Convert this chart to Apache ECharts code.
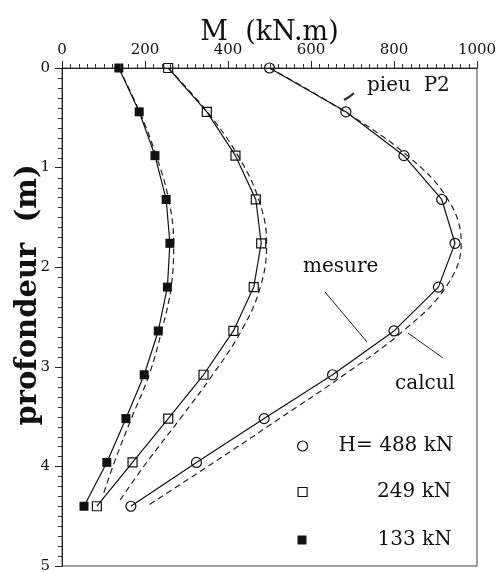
<!DOCTYPE html>
<html>
<head>
<meta charset="utf-8">
<script src="https://cdn.jsdelivr.net/npm/echarts@6/dist/echarts.min.js"></script>
<style>
html,body{margin:0;padding:0;background:#fff;}
#chart{width:497px;height:572px;}
</style>
</head>
<body>
<div id="chart"></div>
<script>
// depth (m) of the measurement points
const depth = [0, 0.44, 0.88, 1.32, 1.76, 2.2, 2.64, 3.08, 3.52, 3.96, 4.4];
// measured moments M (kN.m)
const mes488 = [500, 684, 824, 915, 947, 907, 800, 652, 487, 324, 166];
const mes249 = [256, 349, 418, 467, 480, 462, 413, 341, 256, 170, 84];
const mes133 = [137, 186, 224, 251, 260, 254, 232, 198, 154, 108, 53];
// calculated moments (dashed curves)
const calcDepth488 = [0, 0.44, 0.88, 1.32, 1.76, 2.2, 2.64, 3.08, 3.52, 3.96, 4.39];
const calc488 = [500, 682, 832, 930, 962, 925, 822, 680, 524, 366, 208];
const calcDepth249 = [0, 0.44, 0.88, 1.32, 1.76, 2.2, 2.64, 3.08, 3.52, 3.96, 4.35];
const calc249 = [256, 350, 424, 474, 493, 478, 432, 363, 285, 204, 138];
const calcDepth133 = [0, 0.44, 0.88, 1.32, 1.76, 2.2, 2.64, 3.08, 3.52, 3.96, 4.3];
const calc133 = [137, 187, 227, 257, 269, 263, 240, 210, 167, 126, 98];
// axis ticks
const xTicks = [0, 200, 400, 600, 800, 1000];
const yTicks = [0, 1, 2, 3, 4, 5];
const minorDivisions = 10;
const loadNames = ['H= 488 kN', '249 kN', '133 kN'];

function pts(ds, ms) { return ms.map((m, i) => [m, ds[i]]); }
function minorValues(ticks) {
  const out = [];
  for (let i = 0; i < ticks.length - 1; i++) {
    const step = (ticks[i + 1] - ticks[i]) / minorDivisions;
    for (let k = 1; k < minorDivisions; k++) out.push(ticks[i] + k * step);
  }
  return out;
}

const FONT = 'DejaVu Serif';
const chart = echarts.init(document.getElementById('chart'), null, {renderer: 'canvas'});

const solidLine = {color: '#111', width: 1.2};
const dashLine = {color: '#222', width: 1.2, type: [6, 4]};

function legendFor(name, icon, size, style, top, padLeft) {
  return {
    show: true, selectedMode: false, orient: 'vertical',
    left: 302 - size / 2, top: top, padding: 0,
    itemWidth: size, itemHeight: size,
    data: [{name: name, icon: icon, itemStyle: style}],
    textStyle: {fontFamily: FONT, fontSize: 20, color: '#111', padding: [0, 0, 0, padLeft]}
  };
}

const xMin = xTicks[0], xMax = xTicks[xTicks.length - 1];
const yMin = yTicks[0], yMax = yTicks[yTicks.length - 1];

// minor ticks drawn through the axes' own scales
const minorTickSeries = [
  {
    name: 'minor x', type: 'custom', clip: false, silent: true, z: 5,
    data: minorValues(xTicks).map(v => [v, yMin]),
    renderItem: (params, api) => {
      const p = api.coord([api.value(0), api.value(1)]);
      const x = Math.round(p[0]) + 0.5, y = Math.round(p[1]);
      return {type: 'line', shape: {x1: x, y1: y, x2: x, y2: y - 4}, style: {stroke: '#333', lineWidth: 1}};
    }
  },
  {
    name: 'minor y', type: 'custom', clip: false, silent: true, z: 5,
    data: minorValues(yTicks).map(v => [xMin, v]),
    renderItem: (params, api) => {
      const p = api.coord([api.value(0), api.value(1)]);
      const x = Math.round(p[0]), y = Math.round(p[1]) + 0.5;
      return {type: 'line', shape: {x1: x, y1: y, x2: x - 4, y2: y}, style: {stroke: '#333', lineWidth: 1}};
    }
  }
];

const option = {
  animation: false,
  backgroundColor: '#fff',
  grid: {left: 62, right: 20, top: 68, bottom: 6, show: true, borderColor: '#444', borderWidth: 1,
    containLabel: false, outerBoundsMode: 'none'},
  xAxis: {
    type: 'value', position: 'top', min: xMin, max: xMax, interval: 200,
    name: 'M  (kN.m)', nameLocation: 'middle', nameGap: 22, nameMoveOverlap: false,
    nameTextStyle: {fontFamily: FONT, fontSize: 27, color: '#111'},
    axisLine: {show: true, lineStyle: {color: '#222', width: 1}},
    axisTick: {show: true, inside: false, length: 7, lineStyle: {color: '#222'}},
    splitLine: {show: false},
    axisLabel: {fontFamily: FONT, fontSize: 15, color: '#111', margin: 10, formatter: v => String(v)}
  },
  yAxis: {
    type: 'value', position: 'left', inverse: true, min: yMin, max: yMax, interval: 1,
    name: 'profondeur  (m)', nameLocation: 'middle', nameGap: 19, nameRotate: 90, nameMoveOverlap: false,
    nameTextStyle: {fontFamily: FONT, fontSize: 29, fontWeight: 'bold', color: '#111', padding: [0, 0, 0, 44]},
    axisLine: {show: true, lineStyle: {color: '#222', width: 1}},
    axisTick: {show: true, inside: false, length: 7, lineStyle: {color: '#222'}},
    splitLine: {show: false},
    axisLabel: {fontFamily: FONT, fontSize: 15, color: '#111', margin: 12, formatter: v => String(v)}
  },
  legend: [
    legendFor(loadNames[0], 'circle', 10, {color: 'rgba(0,0,0,0)', borderColor: '#111', borderWidth: 1.2}, 436, 26),
    legendFor(loadNames[1], 'rect', 9, {color: 'rgba(0,0,0,0)', borderColor: '#111', borderWidth: 1.2}, 482, 65),
    legendFor(loadNames[2], 'rect', 9, {color: '#111', borderColor: '#111', borderWidth: 0}, 530, 66)
  ],
  series: [
    {name: 'calcul 488', type: 'line', data: pts(calcDepth488, calc488), symbol: 'none', smooth: 0.4, lineStyle: dashLine, z: 2},
    {name: 'calcul 249', type: 'line', data: pts(calcDepth249, calc249), symbol: 'none', smooth: 0.4, lineStyle: dashLine, z: 2},
    {name: 'calcul 133', type: 'line', data: pts(calcDepth133, calc133), symbol: 'none', smooth: 0.4, lineStyle: dashLine, z: 2},
    {name: loadNames[0], type: 'line', data: pts(depth, mes488), symbol: 'circle', symbolSize: 10,
      lineStyle: solidLine, itemStyle: {color: 'rgba(0,0,0,0)', borderColor: '#111', borderWidth: 1.2}, z: 3},
    {name: loadNames[1], type: 'line', data: pts(depth, mes249), symbol: 'rect', symbolSize: 9,
      lineStyle: solidLine, itemStyle: {color: 'rgba(0,0,0,0)', borderColor: '#111', borderWidth: 1.2}, z: 3},
    {name: loadNames[2], type: 'line', data: pts(depth, mes133), symbol: 'rect', symbolSize: 9,
      lineStyle: solidLine, itemStyle: {color: '#111', borderColor: '#111', borderWidth: 0}, z: 3}
  ].concat(minorTickSeries),
  graphic: [
    {type: 'text', left: 367, top: 76, style: {text: 'pieu  P2', font: '20px "DejaVu Serif"', fill: '#111'}},
    {type: 'polyline', shape: {points: [[344, 100], [349, 97], [354, 93]]}, style: {stroke: '#333', lineWidth: 2.2, fill: null}},
    {type: 'text', left: 303, top: 257, style: {text: 'mesure', font: '20px "DejaVu Serif"', fill: '#111'}},
    {type: 'line', shape: {x1: 325, y1: 292, x2: 367, y2: 342}, style: {stroke: '#222', lineWidth: 1}},
    {type: 'text', left: 395, top: 374, style: {text: 'calcul', font: '20px "DejaVu Serif"', fill: '#111'}},
    {type: 'line', shape: {x1: 408, y1: 333, x2: 443, y2: 358}, style: {stroke: '#222', lineWidth: 1}}
  ]
};
chart.setOption(option);
</script>
</body>
</html>
